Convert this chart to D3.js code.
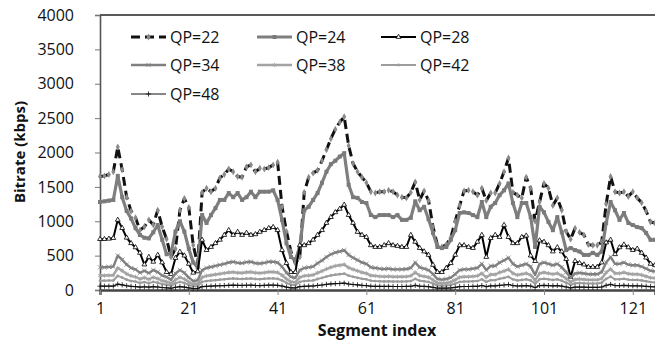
<!DOCTYPE html>
<html><head><meta charset="utf-8">
<script src="https://cdn.jsdelivr.net/npm/d3@7"></script>
<style>body{margin:0;background:#fff}svg{display:block}</style>
</head><body><svg id="c" width="655" height="343"></svg>
<script>
const segments = d3.range(1, 127);
const xTickLabels = [1, 21, 41, 61, 81, 101, 121];
const yTickLabels = [0, 500, 1000, 1500, 2000, 2500, 3000, 3500, 4000];
const seriesNames = ["QP=22", "QP=24", "QP=28", "QP=34", "QP=38", "QP=42", "QP=48"];

const qp22 = [1650,1660,1680,1720,2080,1750,1350,1150,1050,870,
920,1020,950,1160,920,740,480,600,1160,1330,
1200,650,370,1420,1480,1430,1480,1630,1680,1760,
1720,1650,1640,1790,1820,1720,1770,1760,1780,1820,
1860,1210,850,560,390,480,1420,1640,1700,1740,
1880,2040,2200,2340,2440,2520,2100,1840,1720,1640,
1560,1430,1410,1430,1430,1450,1430,1380,1350,1340,
1420,1570,1310,1440,1300,920,650,625,660,760,
1000,1230,1440,1450,1430,1380,1480,1300,1410,1410,
1550,1720,1920,1420,1380,1340,1640,1480,1000,1280,
1550,1480,1230,1340,1160,850,740,900,840,800,
660,650,650,700,1250,1650,1430,1410,1430,1360,
1430,1340,1270,1150,990,975];

const qp24 = [1280,1290,1300,1310,1660,1350,1150,1040,900,800,
760,750,840,945,730,520,530,850,1000,850,
600,400,330,1090,975,1090,1190,1310,1310,1410,
1350,1410,1310,1350,1430,1350,1430,1430,1430,1450,
1310,1020,680,480,435,625,1160,1210,1310,1410,
1560,1720,1830,1880,1940,1990,1530,1350,1340,1280,
1265,1090,1060,1090,1090,1090,1060,1090,1020,1020,
1050,1290,1160,1210,1030,830,625,610,625,730,
870,1120,1130,1120,1090,1060,1280,1060,1210,1265,
1380,1450,1550,1265,1060,1265,1265,1060,625,1210,
1130,990,870,1060,840,580,610,580,560,510,
510,540,510,560,975,1280,1160,1020,1120,975,
945,915,900,830,730,730];

const qp28 = [740,740,745,755,1020,900,760,680,620,540,
370,480,410,510,400,260,230,465,555,500,
380,250,270,730,580,625,680,730,800,870,
800,845,800,830,800,810,845,870,900,915,
870,580,390,260,260,650,650,680,730,800,
870,975,1060,1130,1180,1240,1090,975,845,800,
770,650,625,625,650,680,650,640,625,625,
800,700,610,560,510,365,260,260,320,390,
510,650,650,625,610,700,800,480,755,800,
770,945,770,680,680,770,790,500,420,720,
700,650,560,620,560,450,190,420,390,370,
335,335,335,400,690,730,520,620,660,620,
580,600,540,470,380,360];

const qp34 = [330,330,335,340,500,440,370,320,300,250,
280,245,290,260,210,190,150,240,290,250,
180,130,140,290,320,335,350,365,380,400,
410,395,390,405,410,390,385,395,410,410,
400,340,250,190,175,290,320,330,340,390,
430,480,520,545,560,580,510,470,435,400,
380,330,320,310,305,310,300,300,300,305,
320,400,330,310,290,230,160,150,160,180,
230,290,300,300,310,320,380,290,350,350,
400,430,470,380,340,360,380,340,220,380,
400,380,360,380,330,260,180,240,250,240,
230,230,230,260,400,480,380,380,400,370,
360,360,340,310,280,270];

const qp38 = [210,210,212,215,320,280,235,205,190,160,
180,155,185,165,135,120,95,150,185,160,
115,85,90,185,205,215,225,235,245,255,
260,250,248,258,262,250,245,252,262,262,
255,215,160,120,110,185,205,210,218,250,
275,305,330,350,360,370,325,300,278,255,
242,210,205,198,195,198,192,192,192,195,
205,255,210,198,185,147,102,96,102,115,
147,185,192,192,198,205,242,185,225,225,
255,275,300,242,218,230,242,218,140,242,
255,242,230,242,210,166,115,153,160,153,
147,147,147,166,255,305,242,242,255,236,
230,230,218,198,178,172];

const qp42 = [135,135,137,138,205,180,150,130,122,102,
115,100,118,106,86,78,62,98,118,102,
74,54,58,118,130,137,143,150,155,163,
168,162,160,165,168,160,157,162,168,168,
163,139,102,78,72,118,130,135,139,160,
176,196,212,223,230,238,209,192,178,163,
155,135,130,127,125,127,123,123,123,125,
130,163,135,127,118,94,66,62,66,74,
94,118,123,123,127,130,155,118,143,143,
163,176,192,155,139,147,155,139,90,155,
163,155,147,155,135,106,74,98,102,98,
94,94,94,106,163,196,155,155,163,150,
147,147,139,127,115,110];

const qp48 = [55,55,56,57,85,75,62,54,50,42,
47,41,49,44,36,32,26,40,49,42,
31,22,24,49,54,57,60,62,65,68,
70,67,66,69,70,66,65,67,70,70,
68,58,42,32,30,49,54,56,58,66,
73,82,88,93,95,99,87,80,74,68,
65,56,54,53,52,53,51,51,51,52,
54,68,56,53,49,39,27,26,27,31,
39,49,51,51,53,54,65,49,60,60,
68,73,80,65,58,61,65,58,37,65,
68,65,61,65,56,44,31,41,43,41,
39,39,39,44,68,82,65,65,68,63,
61,61,58,53,48,46];

const seriesValues = [qp22, qp24, qp28, qp34, qp38, qp42, qp48];

const styles = [
  {stroke:"#111", width:3, dash:"9,5", sym:d3.symbolDiamond, size:14, fill:"#8a8a8a", mstroke:"none"},
  {stroke:"#7f7f7f", width:3.2, dash:null, sym:d3.symbolSquare, size:16, fill:"#7a7a7a", mstroke:"none"},
  {stroke:"#000", width:2, dash:null, sym:d3.symbolTriangle, size:10, fill:"#fff", mstroke:"#000"},
  {stroke:"#808080", width:2.4, dash:null, sym:(d3.symbolTimes||d3.symbolCross), size:14, fill:"none", mstroke:"#808080"},
  {stroke:"#a3a3a3", width:2.4, dash:null, sym:(d3.symbolAsterisk||d3.symbolCross), size:14, fill:"none", mstroke:"#a3a3a3"},
  {stroke:"#9c9c9c", width:2, dash:null, sym:d3.symbolCircle, size:6, fill:"#9c9c9c", mstroke:"none"},
  {stroke:"#111", width:1.2, dash:null, sym:(d3.symbolPlus||d3.symbolCross), size:10, fill:"none", mstroke:"#111"}
];

const svg = d3.select("#c");
const font = "'Open Sans', 'DejaVu Sans', sans-serif";
const plot = {left:100, top:15, right:655, bottom:290};

const x = d3.scaleLinear().domain([1, 126]).range([plot.left, plot.right]);
const y = d3.scaleLinear().domain([0, 4000]).range([plot.bottom, plot.top]);

svg.append("rect").attr("width",655).attr("height",343).attr("fill","#fff");

svg.append("defs").append("clipPath").attr("id","clip")
  .append("rect").attr("x", plot.left-4).attr("y", plot.top-10)
  .attr("width", plot.right-plot.left+8).attr("height", plot.bottom-plot.top+14);

// top border
svg.append("line").attr("x1",plot.left).attr("x2",655).attr("y1",y(4000)).attr("y2",y(4000))
  .attr("stroke","#222").attr("stroke-width",1.6);

// y axis
const yAxis = d3.axisLeft(y).tickValues(yTickLabels).tickSize(5).tickPadding(21)
  .tickFormat(d3.format("d"));
const gy = svg.append("g").attr("transform",`translate(${plot.left},0)`).call(yAxis);
gy.select(".domain").attr("stroke","#555").attr("stroke-width",1.6);
gy.selectAll(".tick line").attr("stroke","#777");
gy.selectAll(".tick text").attr("font-family",font).attr("font-size",16).attr("fill","#111");

// x axis
const xAxis = d3.axisBottom(x).tickValues(xTickLabels).tickSize(5).tickPadding(8);
const gx = svg.append("g").attr("transform",`translate(0,${plot.bottom})`).call(xAxis);
gx.select(".domain").attr("stroke","#444").attr("stroke-width",2.4);
gx.selectAll(".tick line").attr("stroke","#888");
gx.selectAll(".tick text").attr("font-family",font).attr("font-size",16).attr("fill","#111");

// axis titles
svg.append("text").attr("x",377).attr("y",336).attr("text-anchor","middle")
  .attr("font-family",font).attr("font-weight","bold").attr("font-size",16).attr("fill","#111")
  .text("Segment index");
svg.append("text").attr("transform","translate(25,152) rotate(-90)").attr("text-anchor","middle")
  .attr("font-family",font).attr("font-weight","bold").attr("font-size",15).attr("fill","#111")
  .text("Bitrate (kbps)");

// series
const g = svg.append("g").attr("clip-path","url(#clip)");
const line = d3.line().x((d,i)=>x(segments[i])).y(d=>y(d));

seriesValues.forEach((vals, k) => {
  const st = styles[k];
  const sg = g.append("g");
  sg.append("path").datum(vals).attr("d", line).attr("fill","none")
    .attr("stroke", st.stroke).attr("stroke-width", st.width)
    .attr("stroke-dasharray", st.dash).attr("stroke-linejoin","round");
  sg.selectAll("path.m").data(vals).join("path").attr("class","m")
    .attr("transform",(d,i)=>`translate(${x(segments[i])},${y(d)})`)
    .attr("d", d3.symbol().type(st.sym).size(st.size))
    .attr("fill", st.fill).attr("stroke", st.mstroke).attr("stroke-width",0.8);
});

// legend
const legPos = [[131,37],[257,37],[381,37],[131,65],[257,65],[381,65],[131,94]];
seriesNames.forEach((name,k) => {
  const st = styles[k];
  const [lx,ly] = legPos[k];
  const lg = svg.append("g");
  lg.append("line").attr("x1",lx).attr("x2",lx+35).attr("y1",ly).attr("y2",ly)
    .attr("stroke",st.stroke).attr("stroke-width",st.width).attr("stroke-dasharray",st.dash);
  lg.append("path").attr("transform",`translate(${lx+17.5},${ly})`)
    .attr("d", d3.symbol().type(st.sym).size(st.size))
    .attr("fill", st.fill).attr("stroke", st.mstroke).attr("stroke-width",0.8);
  lg.append("text").attr("x",lx+39).attr("y",ly).attr("dy","0.35em")
    .attr("font-family",font).attr("font-size",16).attr("fill","#111").text(name);
});
</script></body></html>
